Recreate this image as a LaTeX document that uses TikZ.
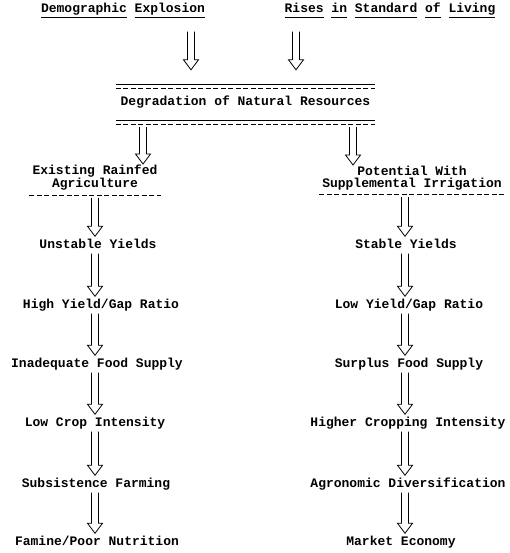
\documentclass[tikz,border=0pt]{standalone}
\usepackage{fontspec}
\usepackage{tikz}
\usetikzlibrary{calc}
\newfontfamily\typefont{Liberation Mono}
\newcommand\wordline[1]{\underline{#1\vphantom{y}}}

\begin{document}
\begin{tikzpicture}[
    x=1pt, y=-1pt,
    item/.style={font=\typefont\bfseries\fontsize{13}{12}\selectfont, inner xsep=2pt, inner ysep=3.5pt, text height=8pt, text depth=2pt},
    head/.style={font=\typefont\bfseries\fontsize{13}{11.5}\selectfont, align=center, inner xsep=3pt, inner ysep=1pt, anchor=north},
    rule/.style={line width=0.9pt},
    dashrule/.style={line width=0.9pt, dash pattern=on 5pt off 2.5pt},
    hollow/.style 2 args={line width=0.8pt, line join=miter, to path={
        let \p1=(\tikztostart), \p2=(\tikztotarget) in
        (\x1-3.5pt,\y1-#1) -- (\x1-3.5pt,\y2+10pt+#2) -- (\x1-7.5pt,\y2+10pt+#2) -- (\x1,\y2+#2)
        -- (\x1+7.5pt,\y2+10pt+#2) -- (\x1+3.5pt,\y2+10pt+#2) -- (\x1+3.5pt,\y1-#1)}},
    hollow/.default={0pt}{0pt}
]

\useasboundingbox (0,0) rectangle (509,553);

\coordinate (ina) at (191,0);
\coordinate (inb) at (296,0);
\coordinate (outa) at (143,0);
\coordinate (outb) at (353,0);
\coordinate (lcol) at (95,0);
\coordinate (rcol) at (405,0);

\node[item] (dem) at (123,10) {\wordline{Demographic} \wordline{Explosion}};
\node[item] (rises) at (390,10) {\wordline{Rises} \wordline{in} \wordline{Standard} \wordline{of} \wordline{Living}};

\node[item, inner sep=0pt, minimum width=259pt, minimum height=35pt] (deg) at (245.5,102.5) {Degradation of Natural Resources};

\node[head] (exist) at (95,164) {Existing Rainfed\\Agriculture};
\node[head] (poten) at (412,165) {Potential With\\Supplemental Irrigation};

\node[item] (unst) at (98,245) {Unstable Yields};
\node[item] (high) at (101,305) {High Yield/Gap Ratio};
\node[item] (inad) at (97,364) {Inadequate Food Supply};
\node[item] (lowc) at (95,423) {Low Crop Intensity};
\node[item] (subs) at (96,484) {Subsistence Farming};
\node[item] (famine) at (97,542) {Famine/Poor Nutrition};

\node[item] (stab) at (406,245) {Stable Yields};
\node[item] (lowr) at (409,305) {Low Yield/Gap Ratio};
\node[item] (surp) at (409,364) {Surplus Food Supply};
\node[item] (hcrop) at (408,423) {Higher Cropping Intensity};
\node[item] (agro) at (408,484) {Agronomic Diversification};
\node[item] (market) at (401,542) {Market Economy};

\draw[rule] (deg.north west) -- (deg.north east);
\draw[dashrule] ([yshift=-4pt]deg.north west) -- ([yshift=-4pt]deg.north east);
\draw[rule] (deg.south west) -- (deg.south east);
\draw[dashrule] ([yshift=-4pt]deg.south west) -- ([yshift=-4pt]deg.south east);
\draw[dashrule] ([yshift=-3.5pt]exist.south west) -- ([yshift=-3.5pt]exist.south east);
\draw[dashrule] ([yshift=-3.5pt]poten.south west) -- ([yshift=-3.5pt]poten.south east);

\draw[hollow={13pt}{15pt}] (dem.south -| ina) to (deg.north -| ina);
\draw[hollow={13pt}{15pt}] (rises.south -| inb) to (deg.north -| inb);
\draw[hollow={7pt}{0pt}] (deg.south -| outa) to (exist.north -| outa);
\draw[hollow={7pt}{0pt}] (deg.south -| outb) to (poten.north -| outb);

\draw[hollow={6pt}{0pt}] (exist.south -| lcol) to (unst.north -| lcol);
\draw[hollow] (unst.south -| lcol) to (high.north -| lcol);
\draw[hollow] (high.south -| lcol) to (inad.north -| lcol);
\draw[hollow] (inad.south -| lcol) to (lowc.north -| lcol);
\draw[hollow] (lowc.south -| lcol) to (subs.north -| lcol);
\draw[hollow] (subs.south -| lcol) to (famine.north -| lcol);

\draw[hollow={6pt}{0pt}] (poten.south -| rcol) to (stab.north -| rcol);
\draw[hollow] (stab.south -| rcol) to (lowr.north -| rcol);
\draw[hollow] (lowr.south -| rcol) to (surp.north -| rcol);
\draw[hollow] (surp.south -| rcol) to (hcrop.north -| rcol);
\draw[hollow] (hcrop.south -| rcol) to (agro.north -| rcol);
\draw[hollow] (agro.south -| rcol) to (market.north -| rcol);

\end{tikzpicture}
\end{document}
